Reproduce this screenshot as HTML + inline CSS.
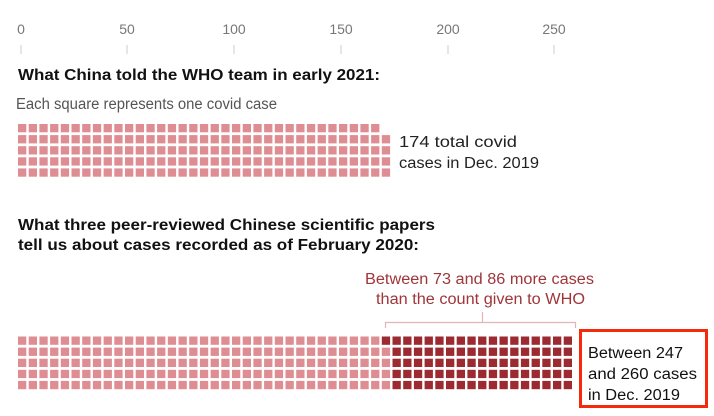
<!DOCTYPE html>
<html><head><meta charset="utf-8"><style>
html,body{margin:0;padding:0;background:#fff;}
svg{display:block;font-family:"Liberation Sans",Arial,sans-serif;}
</style></head><body>
<svg id="s" width="714" height="416" xmlns="http://www.w3.org/2000/svg">
<g fill="#777" font-size="14" text-anchor="middle">
<text x="21" y="34">0</text><text x="127" y="34">50</text><text x="234" y="34">100</text>
<text x="341" y="34">150</text><text x="448" y="34">200</text><text x="554" y="34">250</text>
</g>
<g stroke="#ddd" stroke-width="1.5">
<line x1="21" y1="45" x2="21" y2="54"/><line x1="127" y1="45" x2="127" y2="54"/><line x1="234" y1="45" x2="234" y2="54"/>
<line x1="341" y1="45" x2="341" y2="54"/><line x1="448" y1="45" x2="448" y2="54"/><line x1="554" y1="45" x2="554" y2="54"/>
</g>
<g font-size="16" font-weight="bold" fill="#111">
<text x="18" y="80" textLength="362" lengthAdjust="spacingAndGlyphs">What China told the WHO team in early 2021:</text>
<text x="18" y="230" textLength="417" lengthAdjust="spacingAndGlyphs">What three peer-reviewed Chinese scientific papers</text>
<text x="18" y="250" textLength="401" lengthAdjust="spacingAndGlyphs">tell us about cases recorded as of February 2020:</text>
</g>
<text x="16" y="109" font-size="15.5" fill="#555" textLength="261" lengthAdjust="spacingAndGlyphs">Each square represents one covid case</text>
<g id="g1"></g>
<text x="399" y="147" font-size="15.5" fill="#222" textLength="118" lengthAdjust="spacingAndGlyphs">174 total covid</text>
<text x="399" y="168" font-size="15.5" fill="#222" textLength="140" lengthAdjust="spacingAndGlyphs">cases in Dec. 2019</text>
<text x="365" y="284" font-size="15.5" fill="#a0353a" textLength="229" lengthAdjust="spacingAndGlyphs">Between 73 and 86 more cases</text>
<text x="376" y="304" font-size="15.5" fill="#a0353a" textLength="209" lengthAdjust="spacingAndGlyphs">than the count given to WHO</text>
<path d="M385.5 328 V322.5 H575.5 V328 M482.5 322.5 V312" fill="none" stroke="#e3b4b6" stroke-width="1.2"/>
<g id="g2"></g>
<rect x="580.5" y="330.5" width="126" height="76" fill="#fff" stroke="#f5290c" stroke-width="3"/>
<text x="588" y="358" font-size="15.5" fill="#111" textLength="95" lengthAdjust="spacingAndGlyphs">Between 247</text>
<text x="588" y="379" font-size="15.5" fill="#111" textLength="109" lengthAdjust="spacingAndGlyphs">and 260 cases</text>
<text x="588" y="400" font-size="15.5" fill="#111" textLength="92" lengthAdjust="spacingAndGlyphs">in Dec. 2019</text>
</svg>
<script>
var NS="http://www.w3.org/2000/svg";
function grid(id,y0,n,light){var g=document.getElementById(id);
for(var i=0;i<n;i++){var c=Math.floor(i/5),r=4-(i%5);
var e=document.createElementNS(NS,"rect");
e.setAttribute("x",(18+c*10.7).toFixed(2));e.setAttribute("y",(y0+r*11.1).toFixed(2));
e.setAttribute("width","8.3");e.setAttribute("height","8.3");
e.setAttribute("fill",i<light?"#de8e92":"#9b2b31");g.appendChild(e);}}
grid("g1",124,174,174);
grid("g2",336.5,260,174);
</script>
</body></html>
